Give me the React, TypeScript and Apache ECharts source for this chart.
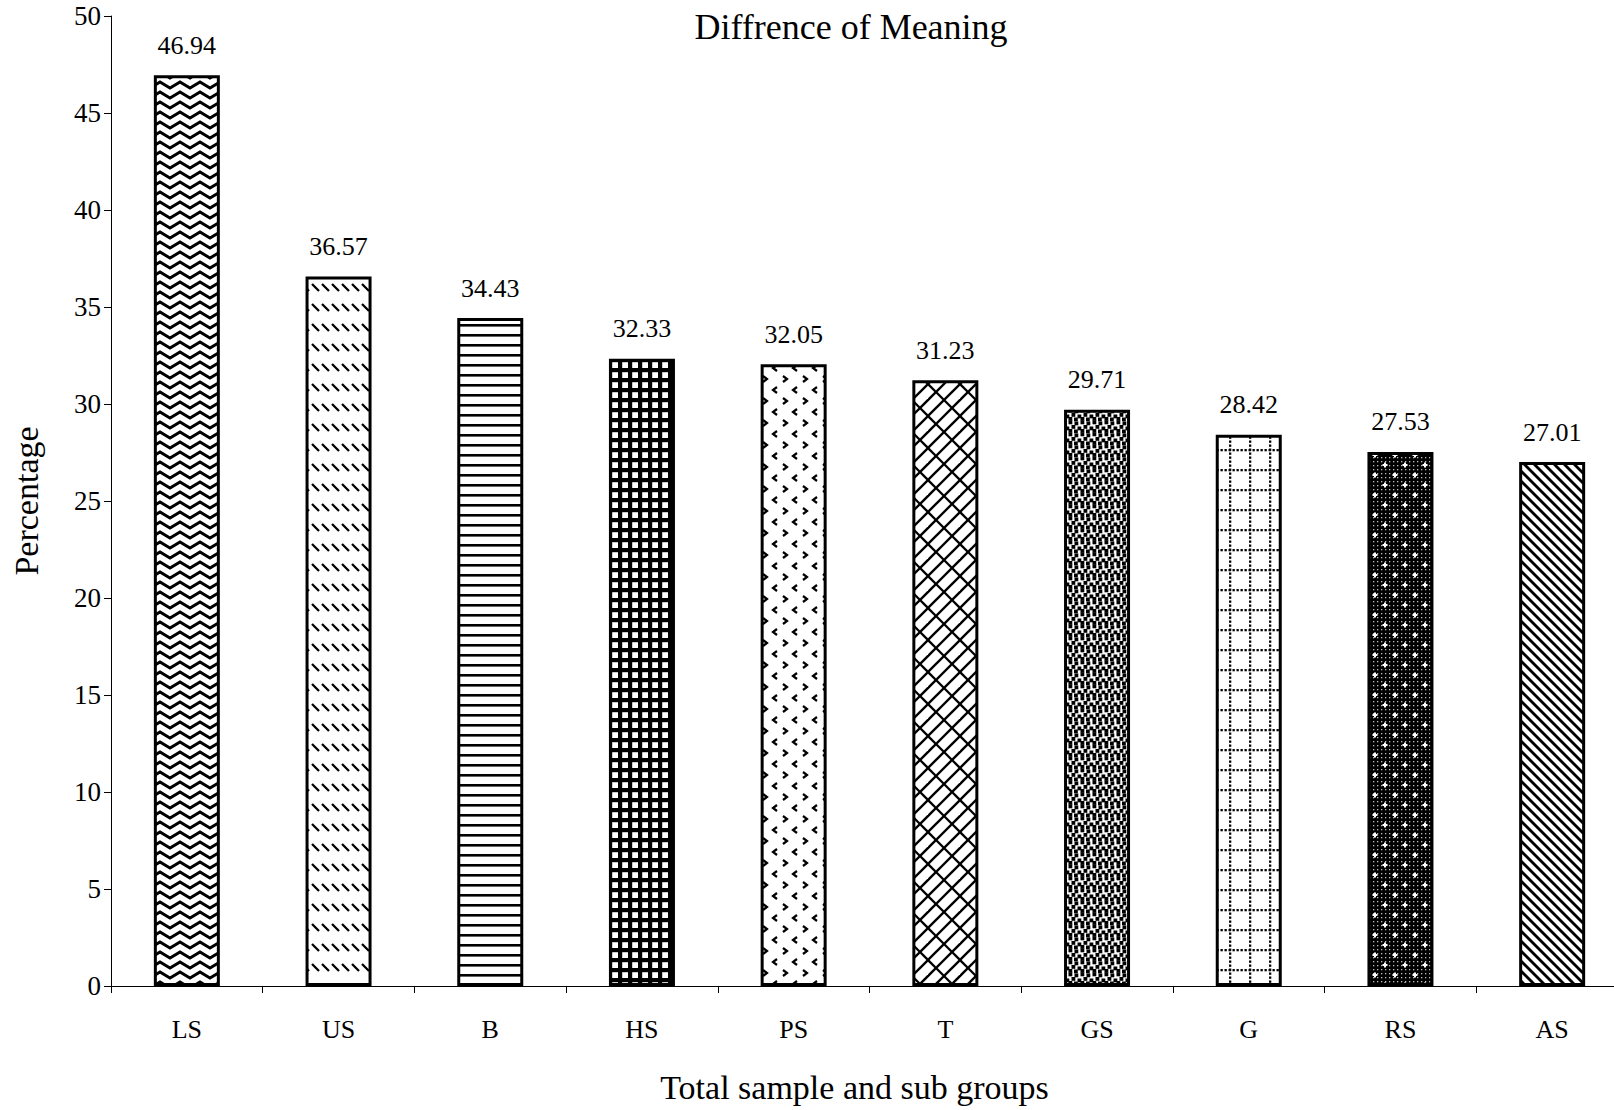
import React, { useEffect, useRef } from "react";
import * as echarts from "echarts";

const categories = ["LS", "US", "B", "HS", "PS", "T", "GS", "G", "RS", "AS"];
const percentages = [46.94, 36.57, 34.43, 32.33, 32.05, 31.23, 29.71, 28.42, 27.53, 27.01];
const yTicks = { min: 0, max: 50, interval: 5 };

const FONT = "'Liberation Serif', 'Times New Roman', serif";

type Draw = (ctx: CanvasRenderingContext2D, w: number, h: number) => void;

function tile(w: number, h: number, draw: Draw, bg = "#fff"): HTMLCanvasElement {
  const c = document.createElement("canvas");
  c.width = w;
  c.height = h;
  const ctx = c.getContext("2d")!;
  ctx.fillStyle = bg;
  ctx.fillRect(0, 0, w, h);
  ctx.strokeStyle = "#000";
  ctx.fillStyle = "#000";
  draw(ctx, w, h);
  return c;
}

function seg(ctx: CanvasRenderingContext2D, x1: number, y1: number, x2: number, y2: number) {
  ctx.beginPath();
  ctx.moveTo(x1, y1);
  ctx.lineTo(x2, y2);
  ctx.stroke();
}

// One hatch per bar, in category order
function buildPatterns(): HTMLCanvasElement[] {
  // zigzag waves
  const zigzag = tile(20, 10, (ctx) => {
    ctx.lineWidth = 2.8;
    ctx.lineJoin = "miter";
    for (const oy of [-10, 0, 10]) {
      ctx.beginPath();
      ctx.moveTo(-10, 8 + oy);
      ctx.lineTo(0, 2 + oy);
      ctx.lineTo(10, 8 + oy);
      ctx.lineTo(20, 2 + oy);
      ctx.lineTo(30, 8 + oy);
      ctx.stroke();
    }
  });
  // rows of short backslash dashes
  const dashes = tile(10, 20, (ctx) => {
    ctx.lineWidth = 2.3;
    seg(ctx, 2, 4, 9, 11);
  });
  // horizontal lines
  const horiz = tile(10, 10, (ctx) => {
    ctx.fillRect(0, 4, 10, 2.6);
  });
  // heavy grid
  const grid = tile(10, 10, (ctx) => {
    ctx.fillStyle = "#fff";
    ctx.fillRect(2.2, 2.2, 5.8, 5.8);
  }, "#000");
  // scattered chevrons
  const chevrons = tile(20, 22, (ctx) => {
    ctx.lineWidth = 2.2;
    ctx.beginPath();
    ctx.moveTo(3, 2);
    ctx.lineTo(7, 5);
    ctx.lineTo(3, 8);
    ctx.stroke();
    ctx.beginPath();
    ctx.moveTo(17, 13);
    ctx.lineTo(13, 16);
    ctx.lineTo(17, 19);
    ctx.stroke();
  });
  // diagonal brickwork
  const bricks = tile(32, 32, (ctx) => {
    ctx.lineWidth = 2.3;
    for (let c = -64; c <= 128; c += 16) {
      seg(ctx, c + 48, -48, c - 48, 48);
      const row = Math.round(c / 16);
      const off = ((row % 2) + 2) % 2 === 0 ? 0 : 8;
      for (let t = -64 + off; t <= 96; t += 16) {
        seg(ctx, t, c - t, t + 8, c - t + 8);
      }
    }
  });
  // dense speckle
  const speckle = tile(12, 12, (ctx) => {
    const s = 3.8;
    const pts = [[0.5, 0.5], [6.5, 1.5], [3.5, 5], [9.5, 6.5], [0.5, 9], [6, 9.5]];
    for (const [x, y] of pts) {
      for (const dx of [-12, 0, 12]) for (const dy of [-12, 0, 12]) ctx.fillRect(x + dx, y + dy, s, s);
    }
  });
  // dotted grid
  const dotted = tile(20, 20, (ctx) => {
    for (let i = 0; i < 20; i += 4) {
      ctx.fillRect(9, i + 0.5, 2.3, 2.3);
      ctx.fillRect(i + 0.5, 9, 2.3, 2.3);
    }
  });
  // dark field with light dots and stars
  const stars = tile(20, 20, (ctx) => {
    ctx.fillStyle = "rgba(255,255,255,0.75)";
    for (let x = 1; x < 20; x += 4) for (let y = 1; y < 20; y += 4) ctx.fillRect(x, y, 1.3, 1.3);
    ctx.fillStyle = "#fff";
    for (const [cx, cy] of [[5, 5], [15, 15]]) {
      ctx.fillRect(cx - 2.5, cy - 1, 5, 2);
      ctx.fillRect(cx - 1, cy - 2.5, 2, 5);
    }
  }, "#000");
  // backslash hatching
  const diag = tile(10, 10, (ctx) => {
    ctx.lineWidth = 2.8;
    for (const o of [-10, 0, 10]) seg(ctx, o - 2, -2, o + 12, 12);
  });
  return [zigzag, dashes, horiz, grid, chevrons, bricks, speckle, dotted, stars, diag];
}

export default function App() {
  const ref = useRef<HTMLDivElement>(null);

  useEffect(() => {
    if (!ref.current) return;
    const chart = echarts.init(ref.current, null, { renderer: "svg" });
    const patterns = buildPatterns();

    chart.setOption({
      animation: false,
      backgroundColor: "#fff",
      title: {
        text: "Diffrence of Meaning",
        left: 851,
        top: 9,
        textAlign: "center",
        padding: 0,
        textStyle: { fontFamily: FONT, fontSize: 36, fontWeight: "normal", color: "#000" },
      },
      grid: { left: 111, top: 16, width: 1517, bottom: 124, containLabel: false },
      xAxis: {
        type: "category",
        data: categories,
        name: "Total sample and sub groups",
        nameLocation: "middle",
        nameGap: 84,
        nameTextStyle: { fontFamily: FONT, fontSize: 34, color: "#000", padding: [0, 30, 0, 0] },
        axisLine: { lineStyle: { color: "#000", width: 1 } },
        axisTick: { show: true, length: 7, alignWithLabel: false, lineStyle: { color: "#000" } },
        axisLabel: { fontFamily: FONT, fontSize: 26, color: "#000", margin: 30 },
      },
      yAxis: {
        type: "value",
        min: yTicks.min,
        max: yTicks.max,
        interval: yTicks.interval,
        name: "Percentage",
        nameLocation: "middle",
        nameGap: 68,
        nameTextStyle: { fontFamily: FONT, fontSize: 34, color: "#000" },
        axisLine: { show: true, lineStyle: { color: "#000", width: 1 } },
        axisTick: { show: true, length: 7, lineStyle: { color: "#000" } },
        axisLabel: { fontFamily: FONT, fontSize: 27, color: "#000", margin: 10 },
        splitLine: { show: false },
      },
      series: [
        {
          type: "bar",
          barWidth: 66,
          data: percentages.map((v, i) => ({
            value: v,
            itemStyle: {
              color: { image: patterns[i], repeat: "repeat" },
              borderColor: "#000",
              borderWidth: 3,
            },
          })),
          label: {
            show: true,
            position: "top",
            distance: 17,
            fontFamily: FONT,
            fontSize: 26,
            color: "#000",
            formatter: (p: any) => Number(p.value).toFixed(2),
          },
        },
      ],
    });

    return () => chart.dispose();
  }, []);

  // The plot runs slightly past the right edge, so the chart is wider than its frame
  return (
    <div
      style={{ position: "absolute", left: 0, top: 0, width: 1614, height: 1110, overflow: "hidden", background: "#fff" }}
    >
      <div ref={ref} style={{ width: 1640, height: 1110 }} />
    </div>
  );
}
